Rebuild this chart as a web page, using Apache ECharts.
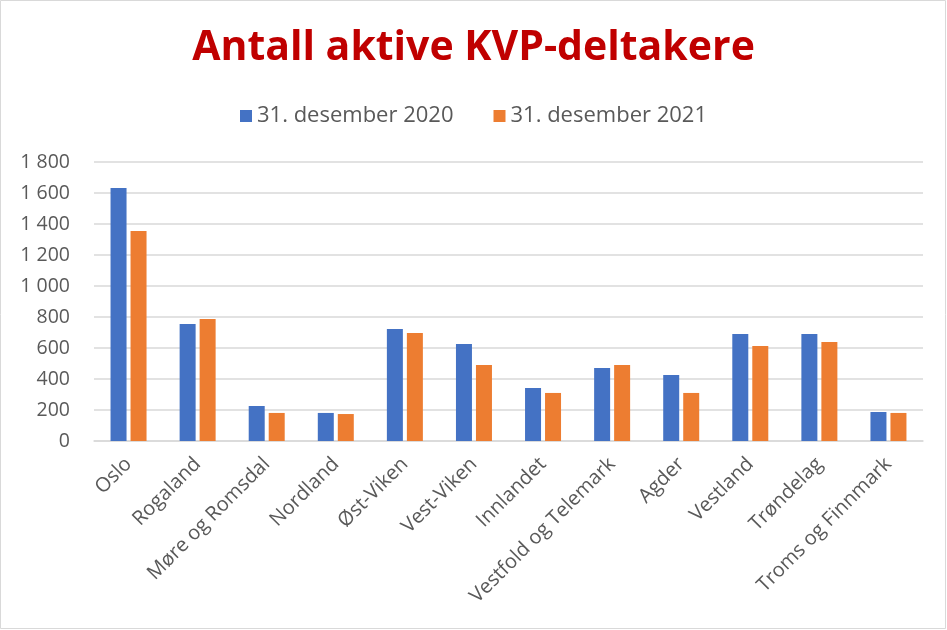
<!DOCTYPE html>
<html>
<head>
<meta charset="utf-8">
<script src="https://cdn.jsdelivr.net/npm/echarts@6/dist/echarts.min.js"></script>
<style>
html,body{margin:0;padding:0;background:#fff;}
#c{width:947px;height:630px;}
</style>
</head>
<body>
<div id="c"></div>
<script>
const categories = ["Oslo","Rogaland","Møre og Romsdal","Nordland","Øst-Viken","Vest-Viken","Innlandet","Vestfold og Telemark","Agder","Vestland","Trøndelag","Troms og Finnmark"];
const series2020 = [1632, 755, 226, 181, 723, 626, 342, 471, 426, 690, 690, 187];
const series2021 = [1355, 787, 181, 174, 697, 490, 310, 490, 310, 613, 639, 181];
const seriesNames = ["31. desember 2020", "31. desember 2021"];
const titleText = "Antall aktive KVP-deltakere";

const chart = echarts.init(document.getElementById('c'), null, {renderer:'canvas'});
const fmt = v => v >= 1000 ? Math.floor(v/1000) + ' ' + String(v%1000).padStart(3,'0') : String(v);
chart.setOption({
  animation:false,
  backgroundColor:'#fff',
  graphic:[{type:'rect',shape:{x:0.5,y:0.5,width:945,height:628},style:{fill:'none',stroke:'#d9d9d9',lineWidth:1},silent:true,z:-1}],
  title:{text:titleText,left:'center',top:23,textStyle:{color:'#C00000',fontFamily:'Open Sans',fontWeight:'bold',fontSize:41}},
  legend:{data:seriesNames,top:100,left:'center',itemWidth:12,itemHeight:12,itemGap:40,icon:'rect',
    textStyle:{color:'#595959',fontFamily:'Open Sans',fontSize:22}},
  grid:{left:94,right:24,top:162,bottom:189,containLabel:false},
  xAxis:{type:'category',data:categories,
    axisLine:{lineStyle:{color:'#d9d9d9',width:1.5}},axisTick:{show:false},
    axisLabel:{rotate:45,color:'#595959',fontFamily:'Open Sans',fontSize:20,interval:0,margin:20}},
  yAxis:{type:'value',min:0,max:1800,interval:200,
    axisLine:{show:false},axisTick:{show:false},
    splitLine:{lineStyle:{color:'#d9d9d9',width:1.5}},
    axisLabel:{color:'#595959',fontFamily:'Open Sans',fontSize:19.5,margin:24,formatter:fmt}},
  series:[
    {name:seriesNames[0],type:'bar',data:series2020,barWidth:16,barGap:'25%',itemStyle:{color:'#4472C4'}},
    {name:seriesNames[1],type:'bar',data:series2021,barWidth:16,barGap:'25%',itemStyle:{color:'#ED7D31'}}
  ]
});
</script>
</body>
</html>
